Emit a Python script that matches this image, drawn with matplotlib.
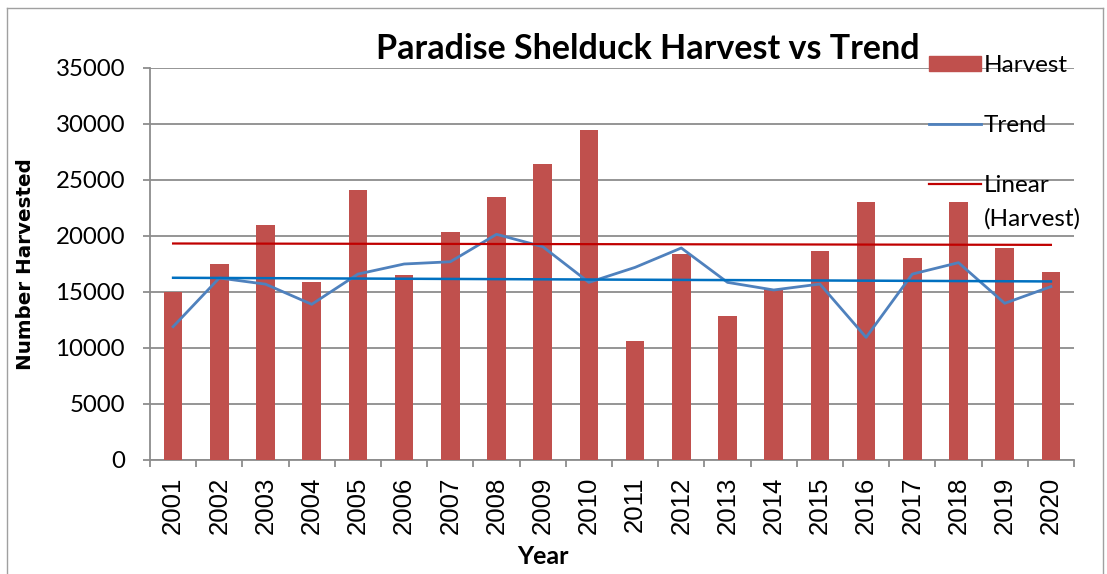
import numpy as np
import matplotlib
matplotlib.use("Agg")
import matplotlib.pyplot as plt
from matplotlib.lines import Line2D
from matplotlib.patches import Patch

years = [str(y) for y in range(2001, 2021)]
harvest = [15000, 17500, 21000, 15900, 24100, 16500, 20400, 23500, 26400, 29500,
           10600, 18400, 12900, 15300, 18700, 23000, 18000, 23000, 18900, 16800]
trend = [11900, 16250, 15700, 13900, 16600, 17500, 17700, 20150, 19050, 15860,
         17200, 18930, 15860, 15180, 15710, 10950, 16600, 17620, 13990, 15480]
yticks = [0, 5000, 10000, 15000, 20000, 25000, 30000, 35000]

title = "Paradise Shelduck Harvest vs Trend"
xlabel = "Year"
ylabel = "Number Harvested"

bar_color = "#C0504D"
trend_color = "#4F81BD"
lin_h_color = "#C00000"
lin_t_color = "#0070C0"
grid_color = "#8C8C8C"

fig = plt.figure(figsize=(11.07, 5.74), dpi=100)
ax = fig.add_axes([150/1107, 1 - 460/574, (1074 - 150)/1107, (460 - 68)/574])

x = np.arange(len(years))
ax.bar(x, harvest, width=0.4, color=bar_color, zorder=3, label="Harvest")
ax.plot(x, trend, color=trend_color, lw=2.0, zorder=4, label="Trend")

ph = np.polyfit(x, harvest, 1)
pt = np.polyfit(x, trend, 1)
ax.plot(x, np.polyval(ph, x), color=lin_h_color, lw=1.6, zorder=5)
ax.plot(x, np.polyval(pt, x), color=lin_t_color, lw=1.8, zorder=5)

ax.set_xlim(-0.5, len(years) - 0.5)
ax.set_ylim(0, 35000)
ax.set_yticks(yticks)
ax.set_yticklabels([str(v) for v in yticks], fontfamily="Lato", fontsize=17.3)
ax.yaxis.grid(True, color=grid_color, lw=1.3, zorder=0)
ax.set_axisbelow(True)

ax.set_xticks(x)
ax.set_xticklabels(years, rotation=90, fontfamily="Liberation Sans", fontsize=18.5)
ax.set_xticks(np.arange(-0.5, len(years)), minor=True)
ax.tick_params(axis="x", which="major", length=0, pad=12)
ax.tick_params(axis="x", which="minor", length=5, width=1.3, color=grid_color, direction="out")
ax.tick_params(axis="y", length=5, width=1.3, color=grid_color, direction="out", pad=13)

for s in ["top", "right"]:
    ax.spines[s].set_visible(False)
for s in ["left", "bottom"]:
    ax.spines[s].set_color(grid_color)
    ax.spines[s].set_linewidth(1.3)

ax.set_ylabel(ylabel, fontfamily="DejaVu Sans", fontweight="bold", fontsize=14.3)
ax.yaxis.set_label_coords((35 - 150) / 924, 0.5)
ax.set_xlabel(xlabel, fontfamily="Lato", fontweight="bold", fontsize=18)
ax.xaxis.set_label_coords((543 - 150) / 924, (460 - 557) / 392)
ax.xaxis.label.set_va("center")

fig.text(648/1107, 1 - 49/574, title, fontfamily="Lato", fontweight="bold",
         fontsize=24.5, ha="center", va="center")

handles = [Patch(color=bar_color),
           Line2D([], [], color=trend_color, lw=2.0),
           Line2D([], [], color=lin_h_color, lw=1.6)]
labels = ["Harvest", "Trend", "Linear"]
leg = fig.legend(handles, labels, loc="upper left",
                 bbox_to_anchor=(929/1107, 1 - 55/574), frameon=False,
                 prop={"family": "Lato", "size": 17.5}, handlelength=2.14,
                 handleheight=0.62, handletextpad=0.1, labelspacing=1.6,
                 borderpad=0, borderaxespad=0)
fig.canvas.draw()
lin_text = leg.get_texts()[2]
fig.add_artist(plt.Annotation("(Harvest)", xy=(0, 0), xycoords=lin_text,
                              xytext=(0, -9), textcoords="offset points",
                              ha="left", va="top", fontfamily="Lato", fontsize=17.5,
                              annotation_clip=False))

# outer chart border
fig.add_artist(Line2D([7/1107, 7/1107], [0, 1 - 8/574], transform=fig.transFigure,
                      color="#A0A0A0", lw=1))
fig.add_artist(Line2D([7/1107, 1103/1107], [1 - 8/574, 1 - 8/574], transform=fig.transFigure,
                      color="#A0A0A0", lw=1))
fig.add_artist(Line2D([1103/1107, 1103/1107], [0, 1 - 8/574], transform=fig.transFigure,
                      color="#A0A0A0", lw=1))

fig.savefig("out.png", dpi=100)
